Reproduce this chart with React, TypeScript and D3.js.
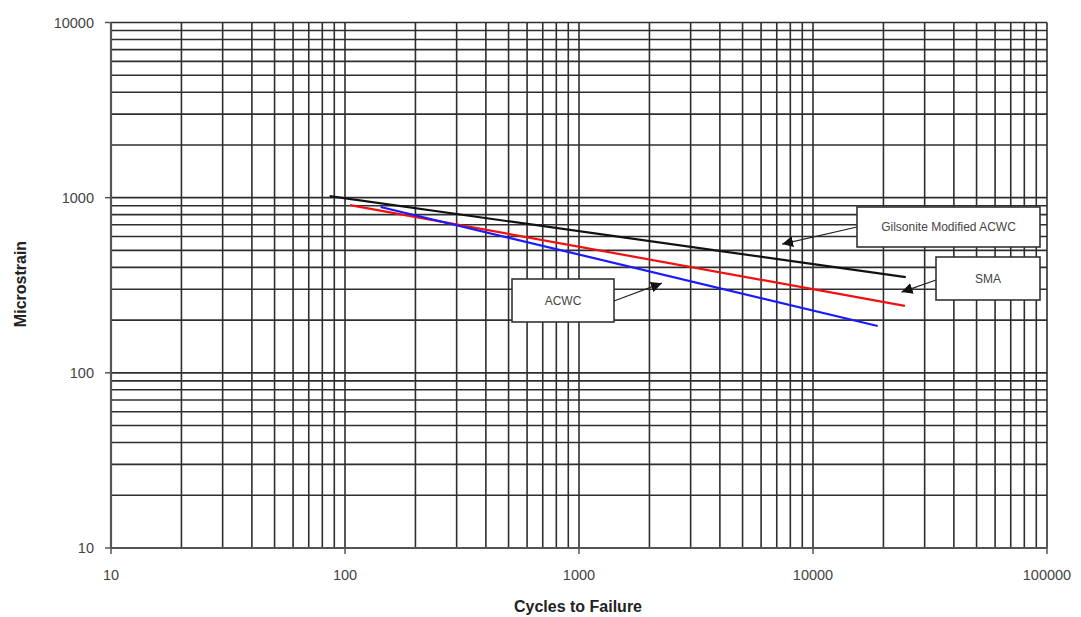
import React from "react";
import * as d3 from "d3";

const xTickValues = [10, 100, 1000, 10000, 100000];
const yTickValues = [10, 100, 1000, 10000];
const seriesNames = ["Gilsonite Modified ACWC", "SMA", "ACWC"];
const gilsoniteCycles = [86, 24900];
const gilsoniteStrain = [1020, 352];
const smaCycles = [105, 24700];
const smaStrain = [907, 241];
const acwcCycles = [142, 18900];
const acwcStrain = [884, 185];
// arrow target points (data coords)
const arrowCycles = [7380, 23900, 2260];
const arrowStrain = [543, 289, 325];

const W = 1081;
const H = 617;
const FONT = "'Liberation Sans', Arial, Helvetica, sans-serif";

export default function App() {
  const x = d3.scaleLog().domain([10, 100000]).range([111, 1047]);
  const y = d3.scaleLog().domain([10, 10000]).range([548, 22.5]);

  const xMinor: number[] = [];
  for (let d = 10; d < 100000; d *= 10) for (let k = 1; k <= 9; k++) xMinor.push(d * k);
  xMinor.push(100000);
  const yMinor: number[] = [];
  for (let d = 10; d < 10000; d *= 10) for (let k = 1; k <= 9; k++) yMinor.push(d * k);
  yMinor.push(10000);

  const line = d3
    .line<[number, number]>()
    .x((d) => x(d[0]))
    .y((d) => y(d[1]));

  const series = [
    { cycles: gilsoniteCycles, strain: gilsoniteStrain, color: "#111111" },
    { cycles: smaCycles, strain: smaStrain, color: "#f01010" },
    { cycles: acwcCycles, strain: acwcStrain, color: "#1a1aff" },
  ];

  const boxes = [
    { x0: 857, y0: 207, w: 183, h: 40, fromX: 857, fromY: 227 },
    { x0: 936, y0: 257, w: 104, h: 43, fromX: 936, fromY: 280 },
    { x0: 512, y0: 279, w: 102, h: 43, fromX: 614, fromY: 301 },
  ];

  const gridColor = "#2e2e2e";

  return (
    <div style={{ position: "absolute", left: 0, top: 0 }}>
      <svg width={W} height={H} style={{ display: "block", background: "#fff" }}>
        <defs>
          <marker id="ah" viewBox="0 0 10 10" refX="10" refY="5" markerWidth="11" markerHeight="11" orient="auto" markerUnits="userSpaceOnUse">
            <path d="M0,0 L10,5 L0,10 z" fill="#111" />
          </marker>
        </defs>
        {/* grid */}
        {xMinor.map((v, i) => (
          <line key={"gx" + i} x1={x(v)} x2={x(v)} y1={y(10000)} y2={y(10)} stroke={gridColor} strokeWidth={1.6} />
        ))}
        {yMinor.map((v, i) => (
          <line key={"gy" + i} x1={x(10)} x2={x(100000)} y1={y(v)} y2={y(v)} stroke={gridColor} strokeWidth={1.6} />
        ))}
        {/* axes */}
        <line x1={x(10)} x2={x(10)} y1={y(10000)} y2={y(10)} stroke="#555" strokeWidth={2.2} />
        <line x1={x(10)} x2={x(100000)} y1={y(10)} y2={y(10)} stroke="#555" strokeWidth={2.2} />
        {yTickValues.map((v) => (
          <g key={"yt" + v}>
            <line x1={x(10) - 6} x2={x(10)} y1={y(v)} y2={y(v)} stroke="#555" strokeWidth={1.5} />
            <text x={x(10) - 17} y={y(v)} dy="0.35em" textAnchor="end" fontFamily={FONT} fontSize={14.5} fill="#444">
              {v}
            </text>
          </g>
        ))}
        {xTickValues.map((v) => (
          <g key={"xt" + v}>
            <line x1={x(v)} x2={x(v)} y1={y(10)} y2={y(10) + 6} stroke="#555" strokeWidth={1.5} />
            <text x={x(v)} y={y(10) + 32} textAnchor="middle" fontFamily={FONT} fontSize={14.5} fill="#444">
              {v}
            </text>
          </g>
        ))}
        {/* series */}
        {series.map((s, i) => (
          <path
            key={"s" + i}
            d={line(s.cycles.map((c, j) => [c, s.strain[j]] as [number, number])) || ""}
            fill="none"
            stroke={s.color}
            strokeWidth={2.2}
          />
        ))}
        {/* annotations */}
        {boxes.map((b, i) => (
          <g key={"b" + i}>
            <line
              x1={b.fromX}
              y1={b.fromY}
              x2={x(arrowCycles[i])}
              y2={y(arrowStrain[i])}
              stroke="#222"
              strokeWidth={1.2}
              markerEnd="url(#ah)"
            />
            <rect x={b.x0} y={b.y0} width={b.w} height={b.h} fill="#fff" stroke="#333" strokeWidth={1.6} />
            <text
              x={b.x0 + b.w / 2}
              y={b.y0 + b.h / 2}
              dy="0.35em"
              textAnchor="middle"
              fontFamily={FONT}
              fontSize={12}
              fill="#444"
            >
              {seriesNames[i]}
            </text>
          </g>
        ))}
        {/* axis titles */}
        <text x={578} y={612} textAnchor="middle" fontFamily={FONT} fontSize={16} fontWeight="bold" fill="#222">
          Cycles to Failure
        </text>
        <text
          transform="translate(26,284) rotate(-90)"
          textAnchor="middle"
          fontFamily={FONT}
          fontSize={16}
          fontWeight="bold"
          fill="#222"
        >
          Microstrain
        </text>
      </svg>
    </div>
  );
}
